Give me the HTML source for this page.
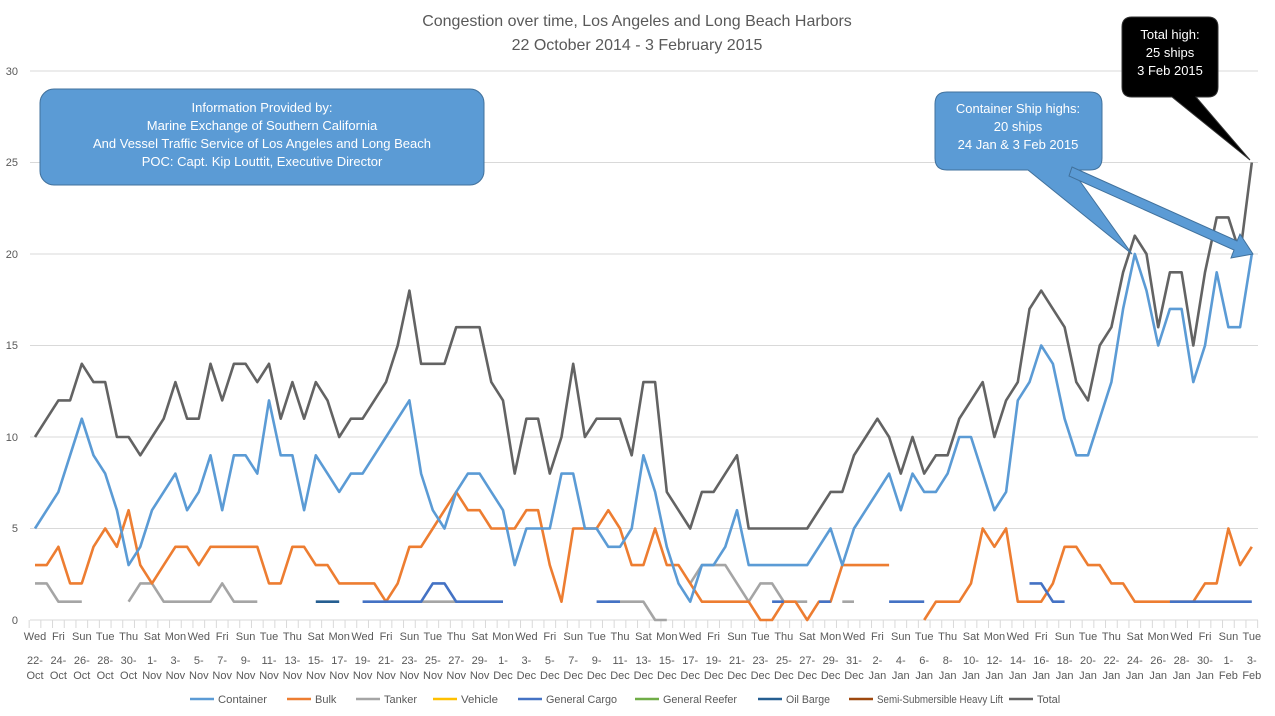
<!DOCTYPE html>
<html><head><meta charset="utf-8"><style>
body{margin:0;background:#fff;}
svg{display:block;font-family:"Liberation Sans",sans-serif;}
</style></head><body>
<svg id="s" width="1275" height="716" viewBox="0 0 1275 716">
<rect width="1275" height="716" fill="#fff"/>
<text x="637" y="26" text-anchor="middle" font-size="16" fill="#595959">Congestion over time, Los Angeles and Long Beach Harbors</text>
<text x="637" y="50" text-anchor="middle" font-size="16" fill="#595959">22 October 2014 - 3 February 2015</text>
<g stroke="#d9d9d9" stroke-width="1">
<line x1="30" x2="1258" y1="71" y2="71"/><line x1="30" x2="1258" y1="162.5" y2="162.5"/><line x1="30" x2="1258" y1="254" y2="254"/><line x1="30" x2="1258" y1="345.5" y2="345.5"/><line x1="30" x2="1258" y1="437" y2="437"/><line x1="30" x2="1258" y1="528.5" y2="528.5"/><line x1="30" x2="1258" y1="620" y2="620"/>
</g>
<g id="ticks" stroke="#d9d9d9" stroke-width="1"></g>
<g font-size="11" fill="#595959" text-anchor="end">
<text x="18" y="75">30</text><text x="18" y="166">25</text><text x="18" y="258">20</text><text x="18" y="349">15</text><text x="18" y="441">10</text><text x="18" y="532">5</text><text x="18" y="624">0</text>
</g>
<g id="series" fill="none" stroke-width="2.6" stroke-linejoin="round"></g>
<g font-size="11" fill="#595959" text-anchor="middle">
<text y="640"><tspan x="35">Wed</tspan><tspan x="58.4">Fri</tspan><tspan x="81.8">Sun</tspan><tspan x="105.2">Tue</tspan><tspan x="128.6">Thu</tspan><tspan x="152">Sat</tspan><tspan x="175.4">Mon</tspan><tspan x="198.8">Wed</tspan><tspan x="222.2">Fri</tspan><tspan x="245.6">Sun</tspan><tspan x="269">Tue</tspan><tspan x="292.4">Thu</tspan><tspan x="315.8">Sat</tspan><tspan x="339.2">Mon</tspan><tspan x="362.6">Wed</tspan><tspan x="386">Fri</tspan><tspan x="409.4">Sun</tspan><tspan x="432.8">Tue</tspan><tspan x="456.2">Thu</tspan><tspan x="479.6">Sat</tspan><tspan x="503">Mon</tspan><tspan x="526.4">Wed</tspan><tspan x="549.8">Fri</tspan><tspan x="573.2">Sun</tspan><tspan x="596.6">Tue</tspan><tspan x="620">Thu</tspan><tspan x="643.4">Sat</tspan><tspan x="666.8">Mon</tspan><tspan x="690.2">Wed</tspan><tspan x="713.6">Fri</tspan><tspan x="737">Sun</tspan><tspan x="760.4">Tue</tspan><tspan x="783.8">Thu</tspan><tspan x="807.2">Sat</tspan><tspan x="830.6">Mon</tspan><tspan x="854">Wed</tspan><tspan x="877.4">Fri</tspan><tspan x="900.8">Sun</tspan><tspan x="924.2">Tue</tspan><tspan x="947.6">Thu</tspan><tspan x="971">Sat</tspan><tspan x="994.4">Mon</tspan><tspan x="1017.8">Wed</tspan><tspan x="1041.2">Fri</tspan><tspan x="1064.6">Sun</tspan><tspan x="1088">Tue</tspan><tspan x="1111.4">Thu</tspan><tspan x="1134.8">Sat</tspan><tspan x="1158.2">Mon</tspan><tspan x="1181.6">Wed</tspan><tspan x="1205">Fri</tspan><tspan x="1228.4">Sun</tspan><tspan x="1251.8">Tue</tspan></text>
<text y="664"><tspan x="35">22-</tspan><tspan x="58.4">24-</tspan><tspan x="81.8">26-</tspan><tspan x="105.2">28-</tspan><tspan x="128.6">30-</tspan><tspan x="152">1-</tspan><tspan x="175.4">3-</tspan><tspan x="198.8">5-</tspan><tspan x="222.2">7-</tspan><tspan x="245.6">9-</tspan><tspan x="269">11-</tspan><tspan x="292.4">13-</tspan><tspan x="315.8">15-</tspan><tspan x="339.2">17-</tspan><tspan x="362.6">19-</tspan><tspan x="386">21-</tspan><tspan x="409.4">23-</tspan><tspan x="432.8">25-</tspan><tspan x="456.2">27-</tspan><tspan x="479.6">29-</tspan><tspan x="503">1-</tspan><tspan x="526.4">3-</tspan><tspan x="549.8">5-</tspan><tspan x="573.2">7-</tspan><tspan x="596.6">9-</tspan><tspan x="620">11-</tspan><tspan x="643.4">13-</tspan><tspan x="666.8">15-</tspan><tspan x="690.2">17-</tspan><tspan x="713.6">19-</tspan><tspan x="737">21-</tspan><tspan x="760.4">23-</tspan><tspan x="783.8">25-</tspan><tspan x="807.2">27-</tspan><tspan x="830.6">29-</tspan><tspan x="854">31-</tspan><tspan x="877.4">2-</tspan><tspan x="900.8">4-</tspan><tspan x="924.2">6-</tspan><tspan x="947.6">8-</tspan><tspan x="971">10-</tspan><tspan x="994.4">12-</tspan><tspan x="1017.8">14-</tspan><tspan x="1041.2">16-</tspan><tspan x="1064.6">18-</tspan><tspan x="1088">20-</tspan><tspan x="1111.4">22-</tspan><tspan x="1134.8">24-</tspan><tspan x="1158.2">26-</tspan><tspan x="1181.6">28-</tspan><tspan x="1205">30-</tspan><tspan x="1228.4">1-</tspan><tspan x="1251.8">3-</tspan></text>
<text y="679"><tspan x="35">Oct</tspan><tspan x="58.4">Oct</tspan><tspan x="81.8">Oct</tspan><tspan x="105.2">Oct</tspan><tspan x="128.6">Oct</tspan><tspan x="152">Nov</tspan><tspan x="175.4">Nov</tspan><tspan x="198.8">Nov</tspan><tspan x="222.2">Nov</tspan><tspan x="245.6">Nov</tspan><tspan x="269">Nov</tspan><tspan x="292.4">Nov</tspan><tspan x="315.8">Nov</tspan><tspan x="339.2">Nov</tspan><tspan x="362.6">Nov</tspan><tspan x="386">Nov</tspan><tspan x="409.4">Nov</tspan><tspan x="432.8">Nov</tspan><tspan x="456.2">Nov</tspan><tspan x="479.6">Nov</tspan><tspan x="503">Dec</tspan><tspan x="526.4">Dec</tspan><tspan x="549.8">Dec</tspan><tspan x="573.2">Dec</tspan><tspan x="596.6">Dec</tspan><tspan x="620">Dec</tspan><tspan x="643.4">Dec</tspan><tspan x="666.8">Dec</tspan><tspan x="690.2">Dec</tspan><tspan x="713.6">Dec</tspan><tspan x="737">Dec</tspan><tspan x="760.4">Dec</tspan><tspan x="783.8">Dec</tspan><tspan x="807.2">Dec</tspan><tspan x="830.6">Dec</tspan><tspan x="854">Dec</tspan><tspan x="877.4">Jan</tspan><tspan x="900.8">Jan</tspan><tspan x="924.2">Jan</tspan><tspan x="947.6">Jan</tspan><tspan x="971">Jan</tspan><tspan x="994.4">Jan</tspan><tspan x="1017.8">Jan</tspan><tspan x="1041.2">Jan</tspan><tspan x="1064.6">Jan</tspan><tspan x="1088">Jan</tspan><tspan x="1111.4">Jan</tspan><tspan x="1134.8">Jan</tspan><tspan x="1158.2">Jan</tspan><tspan x="1181.6">Jan</tspan><tspan x="1205">Jan</tspan><tspan x="1228.4">Feb</tspan><tspan x="1251.8">Feb</tspan></text>
</g>
<!-- legend -->
<g stroke-width="2.6">
<line x1="190" x2="214" y1="699" y2="699" stroke="#5B9BD5"/><line x1="287" x2="311" y1="699" y2="699" stroke="#ED7D31"/><line x1="356" x2="380" y1="699" y2="699" stroke="#A5A5A5"/><line x1="433" x2="457" y1="699" y2="699" stroke="#FFC000"/><line x1="518" x2="542" y1="699" y2="699" stroke="#4472C4"/><line x1="635" x2="659" y1="699" y2="699" stroke="#70AD47"/><line x1="758" x2="782" y1="699" y2="699" stroke="#255E91"/><line x1="849" x2="873" y1="699" y2="699" stroke="#9E480E"/><line x1="1009" x2="1033" y1="699" y2="699" stroke="#636363"/>
</g>
<g font-size="11" fill="#595959">
<text x="218" y="703" textLength="49" lengthAdjust="spacingAndGlyphs">Container</text><text x="315" y="703">Bulk</text><text x="384" y="703" textLength="33" lengthAdjust="spacingAndGlyphs">Tanker</text><text x="461" y="703" textLength="37" lengthAdjust="spacingAndGlyphs">Vehicle</text><text x="546" y="703" textLength="71" lengthAdjust="spacingAndGlyphs">General Cargo</text><text x="663" y="703" textLength="74" lengthAdjust="spacingAndGlyphs">General Reefer</text><text x="786" y="703" textLength="44" lengthAdjust="spacingAndGlyphs">Oil Barge</text><text x="877" y="703" textLength="126" lengthAdjust="spacingAndGlyphs">Semi-Submersible Heavy Lift</text><text x="1037" y="703">Total</text>
</g>
<!-- info box -->
<rect x="40" y="89" width="444" height="96" rx="14" fill="#5B9BD5" stroke="#41719C" stroke-width="1"/>
<g font-size="13" fill="#fff" text-anchor="middle">
<text x="262" y="112">Information Provided by:</text>
<text x="262" y="130">Marine Exchange of Southern California</text>
<text x="262" y="148">And Vessel Traffic Service of Los Angeles and Long Beach</text>
<text x="262" y="166">POC:  Capt. Kip Louttit, Executive Director</text>
</g>
<!-- container callout -->
<path d="M947 92 H1090 Q1102 92 1102 104 V158 Q1102 170 1090 170 H1072 L1132 254 L1028 170 H947 Q935 170 935 158 V104 Q935 92 947 92 Z" fill="#5B9BD5" stroke="#41719C" stroke-width="1"/>
<g font-size="13" fill="#fff" text-anchor="middle">
<text x="1018" y="113">Container Ship highs:</text>
<text x="1018" y="131">20 ships</text>
<text x="1018" y="149">24 Jan &amp; 3 Feb 2015</text>
</g>
<path d="M1072 167 L1237 241 L1240 234 L1253 254 L1231 258 L1234 250 L1069 176 Z" fill="#5B9BD5" stroke="#41719C" stroke-width="1"/>
<!-- total callout -->
<path d="M1132 17 H1208 Q1218 17 1218 27 V87 Q1218 97 1208 97 H1196 L1250 160 L1172 97 H1132 Q1122 97 1122 87 V27 Q1122 17 1132 17 Z" fill="#000" stroke="#333" stroke-width="1"/>
<g font-size="13" fill="#fff" text-anchor="middle">
<text x="1170" y="39">Total high:</text>
<text x="1170" y="57">25 ships</text>
<text x="1170" y="75">3 Feb 2015</text>
</g>
</svg>
<script>
(function(){
var N=null;
var total=[10,11,12,12,14,13,13,10,10,9,
10,11,13,11,11,14,12,14,14,13,14,11,13,11,13,12,10,11,11,12,13,15,18,14,14,14,16,16,16,13,
12,8,11,11,8,10,14,10,11,11,11,9,13,13,7,6,5,7,7,8,9,5,5,5,5,5,5,6,7,7,9,
10,11,10,8,10,8,9,9,11,12,13,10,12,13,17,18,17,16,13,12,15,16,19,21,20,16,19,19,15,19,22,
22,20,25];
var cont=[5,6,7,9,11,9,8,6,3,4,
6,7,8,6,7,9,6,9,9,8,12,9,9,6,9,8,7,8,8,9,10,11,12,8,6,5,7,8,8,7,
6,3,5,5,5,8,8,5,5,4,4,5,9,7,4,2,1,3,3,4,6,3,3,3,3,3,3,4,5,3,5,
6,7,8,6,8,7,7,8,10,10,8,6,7,12,13,15,14,11,9,9,11,13,17,20,18,15,17,17,13,15,19,
16,16,20];
var bulk=[3,3,4,2,2,4,5,4,6,3,
2,3,4,4,3,4,4,4,4,4,2,2,4,4,3,3,2,2,2,2,1,2,4,4,5,6,7,6,6,5,
5,5,6,6,3,1,5,5,5,6,5,3,3,5,3,3,2,1,1,1,1,1,0,0,1,1,0,1,1,3,3,
3,3,3,N,N,0,1,1,1,2,5,4,5,1,1,1,2,4,4,3,3,2,2,1,1,1,1,1,1,2,2,
5,3,4];
function arr(){var a=[];for(var i=0;i<105;i++)a.push(N);return a;}
var tank=arr();
var tv={0:2,1:2,2:1,3:1,4:1,8:1,9:2,10:2,11:1,12:1,13:1,14:1,15:1,16:2,17:1,18:1,19:1,33:1,34:1,35:1,36:1,49:1,50:1,51:1,52:1,53:0,54:0,56:2,57:3,58:3,59:3,60:2,61:1,62:2,63:2,64:1,65:1,66:1,69:1,70:1};
for(var k in tv)tank[k]=tv[k];
var gc=arr();
var gv={28:1,29:1,30:1,31:1,32:1,33:1,34:2,35:2,36:1,37:1,38:1,39:1,40:1,48:1,49:1,50:1,63:1,64:1,67:1,68:1,73:1,74:1,75:1,76:1,85:2,86:2,87:1,88:1};
for(var k in gv)gc[k]=gv[k];
for(var i=97;i<105;i++)gc[i]=1;
var ob=arr();ob[24]=1;ob[25]=1;ob[26]=1;
var NS="http://www.w3.org/2000/svg";
var g=document.getElementById('series');
function X(i){return 35+11.7*i;}
function Y(v){return 620-18.3*v;}
function draw(d,c){
 var s='',started=false;
 for(var i=0;i<d.length;i++){
  if(d[i]===N){started=false;continue;}
  s+=(started?' L':' M')+X(i).toFixed(1)+' '+Y(d[i]).toFixed(1);started=true;
 }
 var p=document.createElementNS(NS,'path');p.setAttribute('d',s);p.setAttribute('stroke',c);g.appendChild(p);
}
draw(tank,'#A5A5A5');draw(bulk,'#ED7D31');draw(gc,'#4472C4');draw(ob,'#255E91');draw(cont,'#5B9BD5');draw(total,'#636363');
var t=document.getElementById('ticks');
for(var i=0;i<=105;i++){var x=X(i-0.5);var l=document.createElementNS(NS,'line');l.setAttribute('x1',x);l.setAttribute('x2',x);l.setAttribute('y1',620);l.setAttribute('y2',628);t.appendChild(l);}
})();
</script>
</body></html>
